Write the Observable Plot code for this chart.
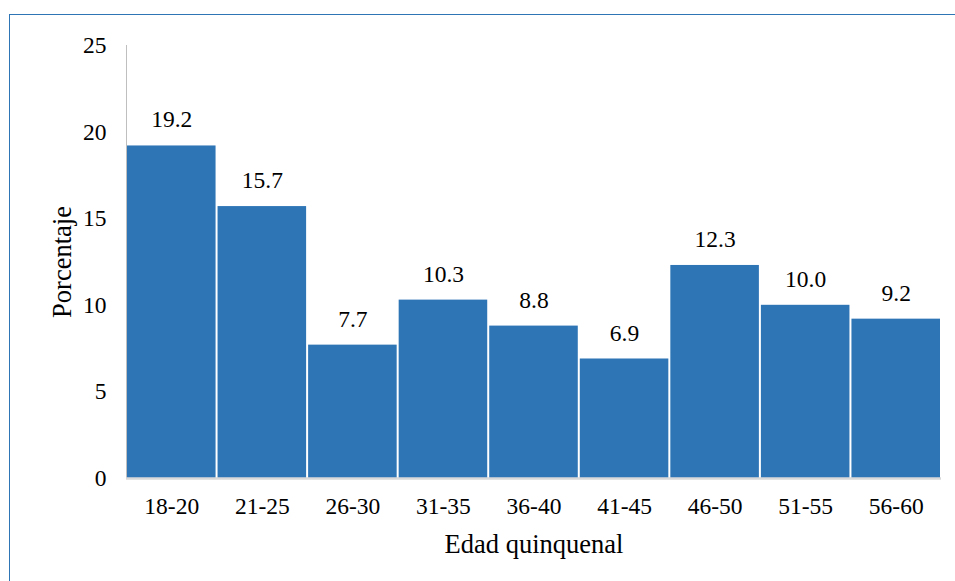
<!DOCTYPE html>
<html>
<head>
<meta charset="utf-8">
<script src="https://cdn.jsdelivr.net/npm/d3@7"></script>
<script src="https://cdn.jsdelivr.net/npm/@observablehq/plot@0.6"></script>
<style>
  html, body { margin: 0; padding: 0; background: #fff; }
  #wrap { position: relative; width: 955px; height: 581px; overflow: hidden; }
  #frame { position: absolute; left: 9px; top: 14px; width: 1000px; height: 1000px; border-top: 1.5px solid #2E75B6; border-left: 1.5px solid #2E75B6; box-sizing: border-box; }
  #chart { position: absolute; left: 0; top: 0; }
  #chart svg, #chart svg text { font-family: "Liberation Serif", serif !important; }
</style>
</head>
<body>
<div id="wrap"><div id="frame"></div><div id="chart"></div></div>
<script>
const categories = ["18-20", "21-25", "26-30", "31-35", "36-40", "41-45", "46-50", "51-55", "56-60"];
const values = [19.2, 15.7, 7.7, 10.3, 8.8, 6.9, 12.3, 10.0, 9.2];
const yTicks = [0, 5, 10, 15, 20, 25];

const data = categories.map((c, i) => ({cat: c, val: values[i]}));
const ff = "Liberation Serif";
const numSize = 23.5;
const titleSize = 26.5;

const chart = Plot.plot({
  width: 955,
  height: 581,
  marginLeft: 126,
  marginRight: 14,
  marginTop: 45,
  marginBottom: 103,
  style: {fontFamily: ff, fontSize: numSize + "px", color: "#000", background: "transparent"},
  x: {domain: categories, padding: 0, round: false, label: null},
  y: {domain: [0, 25], label: null},
  marks: [
    Plot.frame({anchor: "left", stroke: "#bfbfbf", strokeWidth: 1}),
    Plot.barY(data, {x: "cat", y: "val", fill: "#2E75B6", insetLeft: 1, insetRight: 1}),
    Plot.ruleY([0], {stroke: "#d9d9d9", strokeWidth: 2.5}),
    Plot.text(data, {x: "cat", y: "val", text: d => d.val.toFixed(1), dy: -26, fill: "#000", fontSize: numSize, fontFamily: ff}),
    Plot.axisY(yTicks, {tickSize: 0, tickPadding: 20, fontSize: numSize, fontFamily: ff, label: null}),
    Plot.axisY({ticks: [], tickSize: 0, label: "Porcentaje", labelAnchor: "center", labelArrow: "none", labelOffset: 74, fontSize: titleSize, fontFamily: ff}),
    Plot.axisX({tickSize: 0, tickPadding: 19, fontSize: numSize, fontFamily: ff, label: null}),
    Plot.axisX({ticks: [], tickSize: 0, label: "Edad quinquenal", labelAnchor: "center", labelArrow: "none", labelOffset: 74, fontSize: titleSize, fontFamily: ff})
  ]
});
document.getElementById("chart").appendChild(chart);
</script>
</body>
</html>
